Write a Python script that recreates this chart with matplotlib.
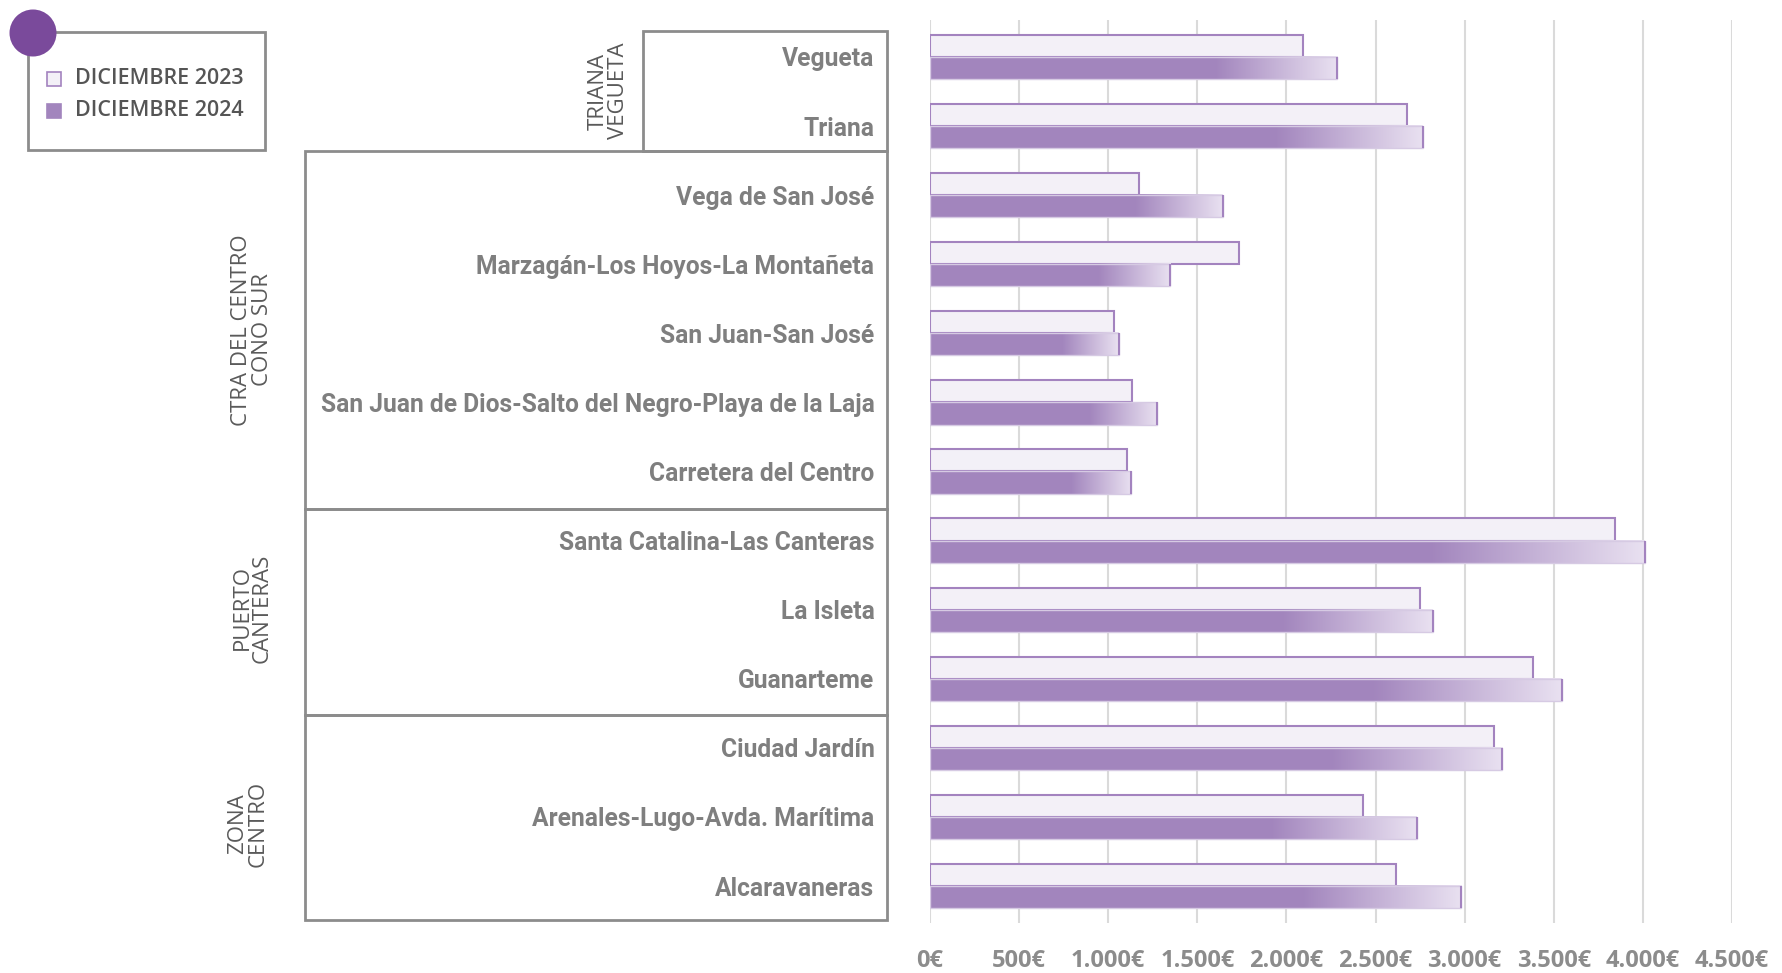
import numpy as np
import matplotlib
matplotlib.use("Agg")
import matplotlib.pyplot as plt
from matplotlib.patches import Rectangle, Ellipse
from matplotlib.colors import LinearSegmentedColormap

barrios = ["Vegueta", "Triana", "Vega de San José", "Marzagán-Los Hoyos-La Montañeta",
           "San Juan-San José", "San Juan de Dios-Salto del Negro-Playa de la Laja",
           "Carretera del Centro", "Santa Catalina-Las Canteras", "La Isleta", "Guanarteme",
           "Ciudad Jardín", "Arenales-Lugo-Avda. Marítima", "Alcaravaneras"]
dic_2023 = [2093, 2679, 1173, 1731, 1030, 1135, 1107, 3846, 2752, 3386, 3167, 2429, 2613]
dic_2024 = [2283, 2765, 1642, 1347, 1059, 1275, 1129, 4011, 2822, 3545, 3212, 2730, 2980]
xticks = [0, 500, 1000, 1500, 2000, 2500, 3000, 3500, 4000, 4500]
grupos = [("TRIANA\nVEGUETA", 608, 91),
          ("CTRA DEL CENTRO\nCONO SUR", 252, 330),
          ("PUERTO\nCANTERAS", 252, 608),
          ("ZONA\nCENTRO", 248, 824)]
series = ["DICIEMBRE 2023", "DICIEMBRE 2024"]

W, H = 1782, 973
fx = lambda px: px / W
fy = lambda py: 1 - py / H

C_LIGHT = "#F3F0F7"
C_EDGE = "#A383BF"
C_2024 = "#A285BD"
C_END = "#E9E1F1"
GRAY = "#7F7F7F"

fig = plt.figure(figsize=(W / 100, H / 100), dpi=100)
ax = fig.add_axes([fx(930), fy(923), fx(1732) - fx(930), fy(20) - fy(923)])

y = np.arange(len(barrios))
h = 0.32
ax.barh(y - h / 2, dic_2023, height=h, color=C_LIGHT, edgecolor=C_EDGE, linewidth=1.5, zorder=3)
ax.barh(y + h / 2, dic_2024, height=h, color=C_2024, edgecolor="none", zorder=3)

# gradient on the last 30% of the 2024 bars
cmap = LinearSegmentedColormap.from_list("fade", [C_2024, C_END])
grad = np.linspace(0, 1, 256).reshape(1, -1)
for yi, v in zip(y, dic_2024):
    ax.imshow(grad, cmap=cmap, aspect="auto", zorder=4,
              extent=(0.7 * v, v, yi + h, yi), interpolation="bilinear")
ax.barh(y + h / 2, dic_2024, height=h, color="none", edgecolor="#D6CAE3", linewidth=1, zorder=5)
ax.vlines(dic_2024, y, y + h, color=C_EDGE, linewidth=1.5, zorder=6)

ax.set_xlim(0, 4500)
ax.set_ylim(len(barrios) - 1 + 0.535, -0.535)
ax.set_xticks(xticks)
ax.set_xticklabels([f"{t:,}€".replace(",", ".") for t in xticks],
                   fontsize=17, fontweight="bold", color="#8C8C8C", family=["Open Sans", "DejaVu Sans"])
ax.set_yticks(y)
ax.set_yticklabels(barrios, fontsize=17.7, fontweight="bold", color=GRAY,
                   family=["Liberation Sans Narrow", "Roboto", "DejaVu Sans"])
ax.tick_params(axis="x", length=0, pad=19)
ax.tick_params(axis="y", length=0, pad=40)
ax.grid(axis="x", color="#DADADA", linewidth=1.5, zorder=0)
ax.set_axisbelow(True)
for s in ax.spines.values():
    s.set_visible(False)

# group boxes
box_kw = dict(fill=False, edgecolor="#8C8C8C", linewidth=2, transform=fig.transFigure)
for x0, y0, x1, y1 in [(643, 31, 887, 151), (305, 151, 887, 509),
                       (305, 509, 887, 715), (305, 715, 887, 920)]:
    fig.add_artist(Rectangle((fx(x0), fy(y1)), fx(x1) - fx(x0), fy(y0) - fy(y1), **box_kw))
for txt, px, py in grupos:
    fig.text(fx(px), fy(py), txt, rotation=90, ha="center", va="center", fontsize=16,
             color="#5A5A5A", fontweight="medium", family=["Open Sans", "DejaVu Sans"],
             linespacing=0.95)

# legend
fig.add_artist(Rectangle((fx(28), fy(150)), fx(265) - fx(28), fy(32) - fy(150), **box_kw))
for lab, fc, ec, py in [(series[0], C_LIGHT, C_EDGE, 79), (series[1], C_2024, C_2024, 111)]:
    fig.add_artist(Rectangle((fx(47), fy(py + 7)), fx(14), fy(0) - fy(14), facecolor=fc,
                             edgecolor=ec, linewidth=1.2, transform=fig.transFigure))
    fig.text(fx(75), fy(py), lab, ha="left", va="center", fontsize=15.5, color="#555555",
             fontweight="semibold", family=["Open Sans", "DejaVu Sans"])
fig.add_artist(Ellipse((fx(33), fy(33)), fx(47), fy(0) - fy(47), facecolor="#7A4A9B",
                       edgecolor="none", transform=fig.transFigure, zorder=10))

fig.savefig("out.png", dpi=100)
